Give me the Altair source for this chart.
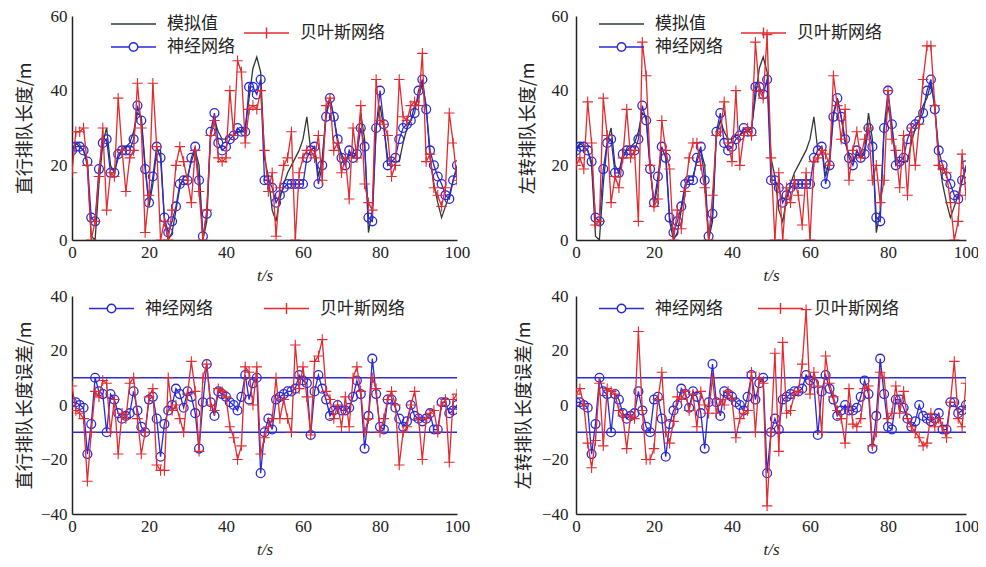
import altair as alt
import pandas as pd

t = list(range(101))

sim_straight = [24,26,25,24,20,1,0,15,26,30, 20,18,22,24,25,26,29,34,33,20,
                9,15,24,24,5,0,2,8,14,17, 17,21,24,20,0,5,28,32,29,27,
                27,28,28,29,29,30,38,46,49,45, 22,17,8,5,11,15,18,20,22,24,
                27,33,24,25,17,22,34,38,33,26, 23,21,23,22,24,34,27,2,8,30,
                36,30,22,21,21,21,26,30,32,36, 38,42,36,22,15,10,6,9,12,16, 19]
nn_straight = [24,25,25,24,21,6,5,19,26,27, 18,18,23,24,24,24,27,36,32,19,
               10,17,25,22,6,2,5,9,15,16, 16,22,25,16,1,7,29,34,26,24,
               25,27,28,30,29,29,41,41,39,43, 16,16,14,10,12,14,15,15,15,15,
               15,22,24,25,15,20,33,38,33,27, 22,20,24,22,23,30,25,6,5,30,
               40,31,20,21,22,27,30,31,32,34, 40,43,35,24,20,17,15,12,11,16, 20]
bayes_straight = [18,29,29,30,20,0,5,17,30,8, 18,17,38,24,13,22,24,42,30,2,
                  12,42,25,0,5,0,8,20,25,21, 16,10,24,13,0,8,28,32,22,21,
                  22,40,28,48,45,26,35,36,35,40, 24,13,18,1,14,20,22,29,0,18,
                  22,24,24,22,28,16,36,38,24,26, 18,22,11,30,22,36,15,10,8,43,
                  32,31,28,17,20,43,33,32,36,37, 36,50,21,23,14,12,9,14,34,26, 16]

sim_left = [24,26,25,24,20,1,0,15,26,30, 20,18,22,24,25,26,29,34,33,20,
            9,15,24,24,5,0,2,8,14,17, 17,21,24,20,0,5,28,32,29,27,
            27,28,28,29,29,30,38,46,49,45, 22,17,8,5,11,15,18,20,22,24,
            27,33,24,25,17,22,34,38,33,26, 23,21,23,22,24,34,27,2,8,30,
            36,30,22,21,21,21,26,30,32,36, 38,42,36,22,15,10,6,9,12,16, 19]
nn_left = [24,25,25,24,21,6,5,19,26,27, 18,18,23,24,24,24,27,36,32,19,
           10,17,25,22,6,2,5,9,15,16, 16,22,25,16,1,7,29,34,26,24,
           25,27,28,30,29,29,41,41,39,43, 16,16,14,10,12,14,15,15,15,15,
           15,22,24,25,15,20,33,38,33,27, 22,20,24,22,23,30,25,6,5,30,
           40,31,20,21,22,27,30,31,32,34, 40,43,35,24,20,17,15,12,11,16, 20]
bayes_left = [20,22,19,37,26,4,5,38,28,10, 17,14,22,35,22,24,5,53,44,20,
              9,11,32,24,19,0,8,3,13,22, 26,26,20,14,0,12,28,29,37,26,
              21,40,20,28,30,28,53,40,38,55, 22,0,18,0,14,10,16,12,4,18,
              0,21,22,24,23,20,44,36,27,35, 16,24,29,22,27,30,16,20,10,16,
              40,27,24,14,28,12,30,20,31,43, 52,52,36,20,19,18,10,0,5,23, 12]

err_nn_straight = [1,1,0,-1,-18,-7,10,5,4,-10, 4,2,-3,-5,-4,-3,5,-2,-8,-10,
                   2,3,-5,-19,-7,-2,0,6,4,-1, 5,3,-3,-16,1,15,1,-4,5,4,
                   3,1,0,-2,3,11,2,8,10,-25, -10,-5,-9,2,3,4,5,5,6,11,
                   9,8,-11,5,11,6,2,-4,-2,0, -2,-2,-1,3,9,4,-16,-4,17,4,
                   -8,-9,2,2,-1,-5,-8,-6,0,-4, -5,-6,-5,-3,-9,-9,1,1,-3,-2, 0]
err_bayes_straight = [7,-2,-3,-5,-28,-10,5,3,9,8, -10,2,-18,-3,-5,8,10,-5,-18,-10,
                      3,6,-22,-24,-24,10,-2,0,-5,-10, 4,16,5,-17,10,15,0,-2,6,5,
                      3,-8,-12,-20,-15,14,12,0,14,-18, -12,-8,-5,10,-5,2,-5,-10,22,6,
                      14,3,-11,16,18,24,5,2,-5,0, -8,3,-8,10,14,5,-10,-5,10,6,
                      -10,-5,2,5,0,-22,-10,-8,0,5, -5,-20,-5,-3,-2,-10,0,2,-21,2, 4]
err_nn_left = [1,1,0,-1,-18,-7,10,5,4,-10, 4,2,-3,-5,-4,-3,5,-2,-8,-10,
               2,3,-5,-19,-7,-2,0,6,4,-1, 5,3,-3,-16,1,15,1,-4,5,4,
               3,1,0,-2,3,11,2,8,10,-25, -10,-5,-9,2,3,4,5,5,6,11,
               9,8,-11,5,11,6,2,-4,-2,0, -2,-2,-1,3,9,4,-16,-4,17,4,
               -8,-9,2,2,-1,-5,-8,-6,0,-4, -5,-6,-5,-3,-9,-9,1,1,-3,-2, 0]
err_bayes_left = [4,6,0,-14,-23,-13,8,-15,6,5, 4,-2,-4,-16,-4,-5,27,-2,-20,-20,
                  -16,2,12,-10,-14,-6,3,2,5,-2, 4,-8,5,0,-3,10,-3,2,0,5,
                  2,-12,-5,-3,-2,12,-10,10,8,-37, -10,19,-17,23,-3,-2,4,5,15,35,
                  4,12,7,-10,18,8,3,-2,-5,-14, 6,-7,-8,-5,6,7,-15,-10,12,10,
                  -5,-3,7,-3,5,-5,-8,-10,-12,-15, -14,-3,-8,-5,-8,-12,1,16,-5,-8, 8]

thresholds = [10, -10]

x_ticks = [0, 20, 40, 60, 80, 100]
top_ticks = [0, 20, 40, 60]
bottom_ticks = [-40, -20, 0, 20, 40]

NAME_SIM = "模拟值"
NAME_NN = "神经网络"
NAME_BAYES = "贝叶斯网络"

BLACK = "#2e3a30"
BLUE = "#2a2ad8"
RED = "#e52a2e"

PLUS = "M-1,0H1M0,-1V1"
LEG_LINE = "M-1,0H1"
LEG_CIRCLE = ("M-1,0H-0.19M0.19,0H1M0.19,0A0.19,0.19 0 1,1 -0.19,0"
              "A0.19,0.19 0 1,1 0.19,0")
LEG_PLUS = "M-1,0H1M0,-0.24V0.24"

SERIF = "Liberation Serif"
CJK = "Noto Sans CJK SC"


def x_enc():
    return alt.X("t:Q", scale=alt.Scale(domain=[0, 100], nice=False, zero=False),
                 axis=alt.Axis(values=x_ticks, title="t/s", titleFont=SERIF,
                               titleFontStyle="italic", titleFontWeight="normal",
                               titleFontSize=17, titleColor="#222", titlePadding=7,
                               labelFont=SERIF, labelFontSize=17, labelColor="#222",
                               ticks=False, labelPadding=4, domainColor="#222",
                               domainWidth=1.5, grid=False, labelFlush=False))


def y_enc(domain, ticks, title, title_pad, label_pad):
    return alt.Y("v:Q", scale=alt.Scale(domain=domain, nice=False, zero=False),
                 axis=alt.Axis(values=ticks, title=title, titleFont=CJK,
                               titleFontWeight="normal", titleFontSize=18,
                               titleColor="#222", titlePadding=title_pad,
                               labelFont=SERIF, labelFontSize=17, labelColor="#222",
                               ticks=False, labelPadding=label_pad, domainColor="#222",
                               domainWidth=1.5, grid=False, labelFlush=False))


def series_layers(values, color, marker, ydom, yticks, ytitle, tpad, lpad):
    df = pd.DataFrame({"t": t, "v": values})
    base = alt.Chart(df).encode(x=x_enc(), y=y_enc(ydom, yticks, ytitle, tpad, lpad))
    out = [base.mark_line(color=color, strokeWidth=1.3, clip=True)]
    if marker == "circle":
        out.append(base.mark_point(shape="circle", color=color, filled=False, size=78,
                                   strokeWidth=1.3, opacity=1, clip=True))
    elif marker == "plus":
        out.append(base.mark_point(shape=PLUS, color=color, filled=False, size=110,
                                   strokeWidth=1.1, opacity=1, clip=True))
    return out


def legend_layer(key, name, color, symbol, lx, ly):
    return alt.Chart(alt.Data(values=[])).mark_point(filled=False, opacity=1).encode(
        color=alt.Color(f"{key}:N", scale=alt.Scale(domain=[name], range=[color]),
                        legend=alt.Legend(title=None, orient="none", legendX=lx, legendY=ly,
                                          symbolType=symbol, symbolSize=2025,
                                          symbolStrokeWidth=1.4, labelOffset=10,
                                          labelFont=CJK, labelFontSize=17,
                                          labelColor="#222", padding=0))
    )


def panel(series, ydom, yticks, ytitle, tpad, lpad, legends, width, height, refs=False):
    layers = []
    if refs:
        layers.append(alt.Chart(pd.DataFrame({"v": thresholds})).mark_rule(
            color=BLUE, strokeWidth=1.3).encode(y=alt.Y("v:Q")))
    for values, color, marker in series:
        layers += series_layers(values, color, marker, ydom, yticks, ytitle, tpad, lpad)
    for lg in legends:
        layers.append(legend_layer(*lg))
    return alt.layer(*layers).resolve_scale(color="independent").properties(
        width=width, height=height)


tl = panel([(sim_straight, BLACK, None), (nn_straight, BLUE, "circle"),
            (bayes_straight, RED, "plus")],
           [0, 60], top_ticks, "直行排队长度/m", 16, 5,
           [("a1", NAME_SIM, BLACK, LEG_LINE, 38, -15.5),
            ("a2", NAME_NN, BLUE, LEG_CIRCLE, 38, 7.5),
            ("a3", NAME_BAYES, RED, LEG_PLUS, 171, -6.5)], 385, 224)

tr = panel([(sim_left, BLACK, None), (nn_left, BLUE, "circle"),
            (bayes_left, RED, "plus")],
           [0, 60], top_ticks, "左转排队长度/m", 14, 8,
           [("b1", NAME_SIM, BLACK, LEG_LINE, 22, -15.5),
            ("b2", NAME_NN, BLUE, LEG_CIRCLE, 22, 7.5),
            ("b3", NAME_BAYES, RED, LEG_PLUS, 164, -6.5)], 390, 224)

bl = panel([(err_nn_straight, BLUE, "circle"), (err_bayes_straight, RED, "plus")],
           [-40, 40], bottom_ticks, "直行排队长度误差/m", 6, 5,
           [("c1", NAME_NN, BLUE, LEG_CIRCLE, 16, -11),
            ("c2", NAME_BAYES, RED, LEG_PLUS, 191, -11)], 385, 218, refs=True)

br = panel([(err_nn_left, BLUE, "circle"), (err_bayes_left, RED, "plus")],
           [-40, 40], bottom_ticks, "左转排队长度误差/m", 8, 8,
           [("d1", NAME_NN, BLUE, LEG_CIRCLE, 22, -11),
            ("d2", NAME_BAYES, RED, LEG_PLUS, 181, -11)], 390, 218, refs=True)

chart = alt.concat(tl, tr, bl, br, columns=2,
                   spacing={"row": 56, "column": 119}, bounds="flush").resolve_scale(
    color="independent"
).properties(
    autosize=alt.AutoSizeParams(type="none"),
    padding={"left": 64, "top": 8, "right": 906, "bottom": 543},
    background="white",
).configure_view(stroke=None)

chart.save("out.html", embed_options={"renderer": "svg", "actions": False})
